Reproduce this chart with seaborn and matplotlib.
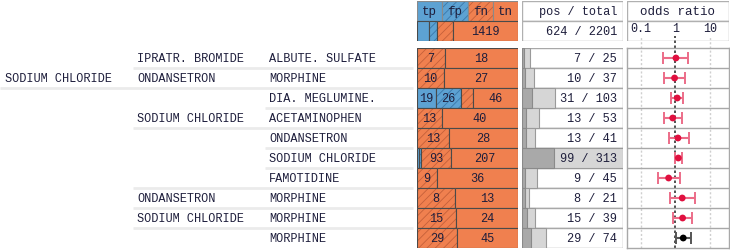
import numpy as np
import pandas as pd
import seaborn as sns
import matplotlib.pyplot as plt

# drug combination rows (three levels of the tree)
level1 = ['', 'SODIUM CHLORIDE', '', '', '', '', '', '', '', '']
level2 = ['IPRATR. BROMIDE', 'ONDANSETRON', '', 'SODIUM CHLORIDE', '', '', '',
          'ONDANSETRON', 'SODIUM CHLORIDE', '']
level3 = ['ALBUTE. SULFATE', 'MORPHINE', 'DIA. MEGLUMINE.', 'ACETAMINOPHEN',
          'ONDANSETRON', 'SODIUM CHLORIDE', 'FAMOTIDINE', 'MORPHINE',
          'MORPHINE', 'MORPHINE']

# confusion counts per row
tp = [0, 0, 19, 0, 0, 6, 0, 0, 0, 0]
fp = [0, 0, 26, 0, 0, 7, 0, 0, 0, 0]
fn = [7, 10, 12, 13, 13, 93, 9, 8, 15, 29]
tn = [18, 27, 46, 40, 28, 207, 36, 13, 24, 45]

# overall counts (header)
all_counts = [270, 158, 354, 1419]
all_pos = 624
all_total = 2201

# odds ratio with interval
odds = [1.04, 0.95, 1.14, 0.84, 1.19, 1.22, 0.64, 1.58, 1.62, 1.69]
odds_lo = [0.43, 0.475, 0.73, 0.46, 0.64, 0.95, 0.31, 0.69, 0.86, 1.07]
odds_hi = [2.31, 1.93, 1.69, 1.58, 2.40, 1.58, 1.33, 3.80, 3.10, 2.74]

W, H = 730, 250
TXT = '#1e1e3c'
BLUE, BLUE_H = '#5da2d3', '#3a78aa'
ORANGE, ORANGE_H = '#f0804f', '#c5603a'
seg_colors = [BLUE, BLUE, ORANGE, ORANGE]
seg_hatch = ['', '////', '////', '']
seg_hcol = [BLUE, BLUE_H, ORANGE_H, ORANGE]

sns.set_theme(style='white')
plt.rcParams['font.family'] = ['Liberation Mono', 'DejaVu Sans Mono']
plt.rcParams['hatch.linewidth'] = 0.6
FS = 8.6


def px_axes(fig, x0, y0, x1, y1):
    return fig.add_axes([x0 / W, 1 - y1 / H, (x1 - x0) / W, (y1 - y0) / H])


def clean(ax):
    ax.set_xticks([])
    ax.set_yticks([])
    ax.set_xlabel('')
    ax.set_ylabel('')
    for s in ax.spines.values():
        s.set_visible(False)


def stacked(ax, y, counts):
    total = sum(counts)
    left = 0
    for k, c in enumerate(counts):
        w = c / total
        if w > 0:
            ax.barh(y, w, left=left, height=1, color=seg_colors[k],
                    hatch=seg_hatch[k], edgecolor=seg_hcol[k], linewidth=0)
            ax.barh(y, w, left=left, height=1, fill=False,
                    edgecolor='#4a4a4a', linewidth=0.8)
            lab = str(c)
            if w * 101 > len(lab) * 7.2 + 2:
                ax.text(left + w / 2, y + 0.05, lab, ha='center', va='center',
                        fontsize=FS, color=TXT)
        left += w


n = len(level3)
rows = np.arange(n)
pos = np.array(tp) + np.array(fn)
total = np.array(tp) + np.array(fp) + np.array(fn) + np.array(tn)

fig = plt.figure(figsize=(W / 100, H / 100), dpi=100)

# ---- labels ----
ax = px_axes(fig, 0, 48, 415, 248)
ax.set_xlim(0, 415)
ax.set_ylim(n - 0.5, -0.5)
ax.axis('off')
sep_start = [133, 0, 265, 133, 265, 265, 133, 133, 133, 265]
for i in rows:
    ax.text(5, i + 0.05, level1[i], va='center', fontsize=FS, color=TXT)
    ax.text(137, i + 0.05, level2[i], va='center', fontsize=FS, color=TXT)
    ax.text(269, i + 0.05, level3[i], va='center', fontsize=FS, color=TXT)
    if i < n - 1:
        ax.hlines(i + 0.5, sep_start[i], 413, color='#ebebeb', lw=2)

# ---- confusion header ----
ax = px_axes(fig, 417, 1, 518, 41)
ax.set_xlim(0, 1)
ax.set_ylim(1.5, -0.5)
clean(ax)
for k, name in enumerate(['tp', 'fp', 'fn', 'tn']):
    ax.barh(0, 0.25, left=k * 0.25, height=1, color=seg_colors[k],
            hatch=seg_hatch[k], edgecolor=seg_hcol[k], linewidth=0)
    ax.barh(0, 0.25, left=k * 0.25, height=1, fill=False,
            edgecolor='#8a8a8a', linewidth=0.8)
    ax.text(k * 0.25 + 0.125, 0.05, name, ha='center', va='center',
            fontsize=FS + 0.4, color=TXT)
stacked(ax, 1, all_counts)

# ---- confusion rows ----
ax = px_axes(fig, 417, 48, 518, 248)
ax.set_xlim(0, 1)
ax.set_ylim(n - 0.5, -0.5)
clean(ax)
for i in rows:
    stacked(ax, i, [tp[i], fp[i], fn[i], tn[i]])

# ---- pos / total header ----
ax = px_axes(fig, 522, 1, 623, 41)
ax.set_xlim(0, 1)
ax.set_ylim(1.5, -0.5)
clean(ax)
ax.barh([0, 1], 1, height=1, color='white', edgecolor='#b0b0b0', linewidth=1)
ax.text(0.94, 0.05, 'pos / total', ha='right', va='center', fontsize=FS, color=TXT)
ax.text(0.94, 1.05, f'{all_pos} / {all_total}', ha='right', va='center',
        fontsize=FS, color=TXT)

# ---- pos / total rows ----
ax = px_axes(fig, 522, 48, 623, 248)
df = pd.DataFrame({'row': rows, 'pos': pos / total.max(),
                   'total': total / total.max(), 'box': 1.0})
sns.barplot(data=df, x='box', y='row', orient='h', width=1, color='white',
            edgecolor='#a8a8a8', linewidth=1, ax=ax)
sns.barplot(data=df, x='total', y='row', orient='h', width=1,
            color='#d6d6d6', saturation=1, edgecolor='#9a9a9a',
            linewidth=0.8, ax=ax)
sns.barplot(data=df, x='pos', y='row', orient='h', width=1,
            color='#a9a9a9', saturation=1, edgecolor='#8a8a8a',
            linewidth=0.8, ax=ax)
ax.set_xlim(0, 1)
ax.set_ylim(n - 0.5, -0.5)
for i in rows:
    ax.text(0.94, i + 0.05, f'{pos[i]} / {total[i]}', ha='right', va='center',
            fontsize=FS, color=TXT)
clean(ax)

# ---- odds header ----
xl = (0.0403, 35.3)
ax = px_axes(fig, 627, 1, 729, 41)
ax.set_xscale('log')
ax.set_xlim(*xl)
ax.set_ylim(1.5, -0.5)
ax.barh([0, 1], xl[1] - xl[0], left=xl[0], height=1, color='white',
        edgecolor='#b0b0b0', linewidth=1)
ax.text(np.sqrt(xl[0] * xl[1]), 0.05, 'odds ratio', ha='center', va='center',
        fontsize=FS + 0.4, color=TXT)
for v, lab in zip([0.1, 1, 10], ['0.1', '1', '10']):
    ax.text(v, 0.92, lab, ha='center', va='center', fontsize=FS - 0.2,
            color=TXT)
clean(ax)
ax.minorticks_off()

# ---- odds rows ----
ax = px_axes(fig, 627, 48, 729, 248)
ax.set_xscale('log')
ext = 1 + 12 / 200
for v in [0.1, 10]:
    ax.axvline(v, ymax=ext, color='#cfcfcf', lw=1, ls=(0, (1.5, 1.5)),
               clip_on=False, zorder=1)
ax.axvline(1, ymax=ext, color='#333333', lw=1.2, ls=(0, (1.5, 1.5)),
           clip_on=False, zorder=1)
for i in rows[:-1]:
    ax.axhline(i + 0.5, color='#a8a8a8', lw=1)
sig = ['yes' if lo > 1 or hi < 1 else 'no' for lo, hi in zip(odds_lo, odds_hi)]
for i in rows:
    ecol = '#555555' if sig[i] == 'yes' else '#ec6c88'
    ax.errorbar(odds[i], i, xerr=[[odds[i] - odds_lo[i]], [odds_hi[i] - odds[i]]],
                fmt='none', ecolor=ecol, elinewidth=1.5, capsize=4.3,
                capthick=1.4, zorder=2)
odf = pd.DataFrame({'odds': odds, 'row': rows, 'sig': sig})
sns.scatterplot(data=odf, x='odds', y='row', hue='sig',
                palette={'yes': 'black', 'no': '#e0103f'}, s=24, linewidth=0,
                legend=False, zorder=3, ax=ax)
ax.set_xlim(*xl)
ax.set_ylim(n - 0.5, -0.5)
clean(ax)
ax.minorticks_off()
for s in ax.spines.values():
    s.set_visible(True)
    s.set_color('#a8a8a8')
    s.set_linewidth(1)

fig.savefig('out.png', dpi=100)
